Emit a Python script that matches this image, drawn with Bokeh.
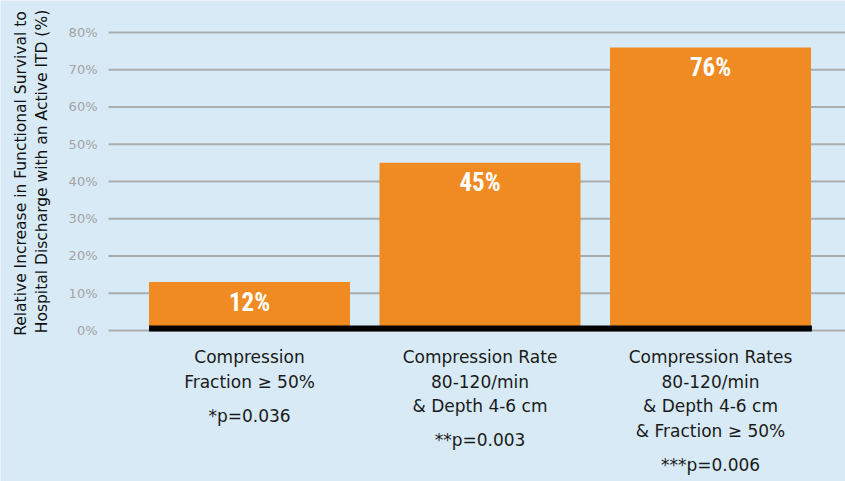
import math
from bokeh.plotting import figure
from bokeh.models import Range1d
from bokeh.core.properties import value
from bokeh.embed import file_html
from bokeh.resources import INLINE

# ---- data ----
category_lines = [
    ["Compression", "Fraction \u2265 50%"],
    ["Compression Rate", "80-120/min", "& Depth 4-6 cm"],
    ["Compression Rates", "80-120/min", "& Depth 4-6 cm", "& Fraction \u2265 50%"],
]
p_values = ["*p=0.036", "**p=0.003", "***p=0.006"]
bar_heights = [13, 45, 76]
bar_labels = ["12%", "45%", "76%"]
y_ticks = [0, 10, 20, 30, 40, 50, 60, 70, 80]
y_tick_labels = ["0%", "10%", "20%", "30%", "40%", "50%", "60%", "70%", "80%"]
y_title_lines = ["Relative Increase in Functional Survival to",
                 "Hospital Discharge with an Active ITD (%)"]

# ---- style ----
BG = "#d8eaf6"
ORANGE = "#f08b23"
GRID = "#a9adb0"
W, H = 845, 481
X0, X1 = -1.0803, 2.5857
Y0, Y1 = -40.54, 88.59
PXX = W / (X1 - X0)         # pixels per category unit
PX = H / (Y1 - Y0)          # pixels per percent
BAR_W = 0.872
FONT = "DejaVu Sans"


def sx(px):
    return X0 + px / PXX


def sy(py):
    return Y1 - py / PX


xs = list(range(len(bar_heights)))

p = figure(width=W, height=H, x_range=Range1d(X0, X1), y_range=Range1d(Y0, Y1),
           output_backend="svg", toolbar_location=None,
           x_axis_location=None, y_axis_location=None,
           min_border=0, background_fill_color=BG, border_fill_color=BG,
           outline_line_color=None)
p.xgrid.visible = False
p.ygrid.visible = False

# gridlines
p.segment(x0=[sx(108)] * len(y_ticks), x1=[X1] * len(y_ticks), y0=y_ticks, y1=y_ticks,
          line_color=GRID, line_width=2)

# tick labels
p.text(x=[sx(97)] * len(y_ticks), y=y_ticks, text=y_tick_labels,
       text_align="right", text_baseline="middle", text_font=value(FONT),
       text_font_size="13px", text_color="#a3a3a3")

# y title
p.text(x=[sx(20), sx(41)], y=[sy(173), sy(171)], text=y_title_lines, angle=math.pi / 2,
       text_align="center", text_baseline="middle", text_font=value(FONT),
       text_font_size="15.5px", text_color="#111111")

p.vbar(x=xs, top=bar_heights, bottom=0, width=BAR_W, fill_color=ORANGE, line_color=None)

# black baseline
p.quad(left=[xs[0] - BAR_W / 2], right=[xs[-1] + BAR_W / 2 + 0.004],
       bottom=[-1 / PX], top=[5 / PX], fill_color="black", line_color=None)

# bar value labels
p.text(x=xs, y=[h - 20 / PX for h in bar_heights], text=bar_labels,
       text_align="center", text_baseline="middle",
       text_font=value("'Roboto Condensed', Roboto, sans-serif"),
       text_font_style="bold", text_font_size="25px", text_color="white")

# category labels
lx, ly, lt = [], [], []
px_, py_, pt_ = [], [], []
for i, lines in enumerate(category_lines):
    for j, line in enumerate(lines):
        lx.append(xs[i]); ly.append(-(27 + 24.5 * j) / PX); lt.append(line)
    px_.append(xs[i]); py_.append(-(27 + 24.5 * (len(lines) - 1) + 34) / PX); pt_.append(p_values[i])

p.text(x=lx, y=ly, text=lt, text_align="center", text_baseline="middle",
       text_font=value(FONT), text_font_size="17px", text_color="#1a1a1a")
p.text(x=px_, y=py_, text=pt_, text_align="center", text_baseline="middle",
       text_font=value(FONT), text_font_size="17px", text_color="#1a1a1a")

html = file_html(p, INLINE)
open("out.html", "w").write(html)
